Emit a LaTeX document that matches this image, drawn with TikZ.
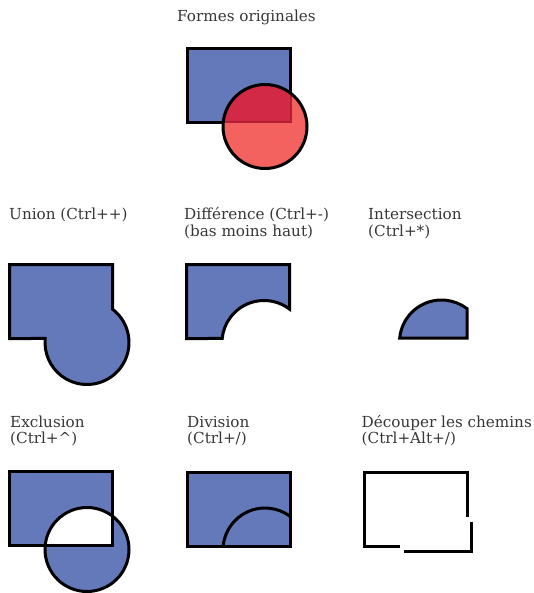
\documentclass[tikz,border=0pt]{standalone}
\usepackage{fontspec}
\setmainfont{DejaVu Serif}
\definecolor{shapeblue}{RGB}{100,121,186}
\definecolor{lightred}{RGB}{243,98,94}
\definecolor{darkred}{RGB}{210,42,70}
\definecolor{edgered}{RGB}{180,30,50}
\definecolor{labelgray}{RGB}{55,55,55}
\def\rectP{(0,0) rectangle (103,74)}
\def\circP{(77.5,78) circle[radius=42]}
\begin{document}
\begin{tikzpicture}[x=1pt,y=-1pt,
  lbl/.style={anchor=base west, inner sep=0pt, text=labelgray, font=\fontsize{15.2}{16.5}\selectfont, align=left},
  outline/.style={draw=black, line width=3pt, line join=miter},
  bluefill/.style={fill=shapeblue}]
\path[use as bounding box] (0,0) rectangle (534,593);

% labels (anchor = baseline of the last line)
\node[lbl] (t0) at (177,22) {Formes originales};
\node[lbl] (t1) at (9,220) {Union (Ctrl++)};
\node[lbl] (t2) at (184,236.5) {Différence (Ctrl+-)\\(bas moins haut)};
\node[lbl] (t3) at (368,236.5) {Intersection\\(Ctrl+*)};
\node[lbl] (t4) at (10,443.5) {Exclusion\\(Ctrl+\textasciicircum)};
\node[lbl] (t5) at (187,443.5) {Division\\(Ctrl+/)};
\node[lbl] (t6) at (361.5,443.5) {Découper les chemins\\(Ctrl+Alt+/)};

% original shapes
\begin{scope}[shift={(187.5,48.5)}]
  \fill[bluefill] \rectP;
  \draw[outline] \rectP;
  \fill[lightred] \circP;
  \begin{scope}
    \clip \circP;
    \fill[darkred] \rectP;
    \draw[edgered, line width=2pt] \rectP;
  \end{scope}
  \draw[outline] \circP;
\end{scope}

% union
\begin{scope}[shift={(9.5,264.5)}]
  \draw[outline, bluefill] (0,0) -- (103,0) -- (103,44.627)
    arc[start angle=-52.62, end angle=185.47, radius=42] -- (0,74) -- cycle;
\end{scope}

% difference
\begin{scope}[shift={(186.5,264.5)}]
  \draw[outline, bluefill] (0,0) -- (103,0) -- (103,44.627)
    arc[start angle=-52.62, end angle=-174.53, radius=42] -- (0,74) -- cycle;
\end{scope}

% intersection
\begin{scope}[shift={(364,264)}]
  \draw[outline, bluefill] (35.691,74)
    arc[start angle=185.47, end angle=307.38, radius=42] -- (103,74) -- cycle;
\end{scope}

% exclusion
\begin{scope}[shift={(9.5,471.5)}]
  \fill[bluefill, even odd rule] \rectP \circP;
  \draw[outline] \rectP;
  \draw[outline] \circP;
\end{scope}

% division
\begin{scope}[shift={(187.5,472)}]
  \draw[outline, bluefill] \rectP;
  \draw[outline] (35.691,74) arc[start angle=185.47, end angle=307.38, radius=42];
\end{scope}

% cut paths
\begin{scope}[shift={(364.5,472)}]
  \draw[outline] (35.691,74) -- (0,74) -- (0,0) -- (103,0) -- (103,44.627);
  \draw[outline, shift={(3.5,5)}] (103,44.627) -- (103,74) -- (35.691,74);
\end{scope}
\end{tikzpicture}
\end{document}
